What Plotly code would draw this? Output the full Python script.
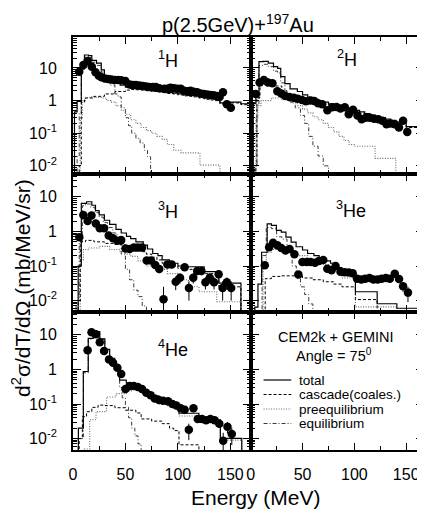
import plotly.graph_objects as go

# ---------------- data ----------------
# 1H
H1_E = [6, 10, 14, 18, 21.5, 24.7, 27.2, 30.4, 33.5, 36.7, 39.8, 43, 46, 50, 54, 57, 60, 63.4, 66.6, 69.7,
        72.9, 76, 79, 82.2, 87, 90, 93, 96.4, 99.6, 102.7, 105.8, 109, 112, 115, 118.4, 121.5, 124.6, 127.8,
        131, 134, 137, 139.7, 142.9, 146.6, 150.4]
H1_y = [7.7, 12.3, 16.3, 11, 7.4, 5.8, 5.2, 4.8, 4.6, 4.4, 4.3, 4.3, 4.2, 4.0, 3.1, 3.0, 3.0, 2.9, 2.8, 2.7,
        2.6, 2.6, 2.6, 2.4, 2.3, 2.3, 2.5, 2.4, 2.3, 2.3, 2.0, 1.95, 2.0, 1.86, 1.8, 1.66, 1.6, 1.55,
        1.48, 1.45, 1.38, 1.28, 1.8, 0.78, 0.6]
H1_err = [0.4, 0.6, 0.8, 0.6, 0.4, 0.3, 0.3, 0.25, 0.25, 0.25, 0.25, 0.25, 0.25, 0.2, 0.17, 0.17, 0.17, 0.16, 0.16, 0.15,
          0.15, 0.15, 0.15, 0.14, 0.13, 0.13, 0.14, 0.14, 0.13, 0.13, 0.12, 0.12, 0.12, 0.11, 0.11, 0.1, 0.1, 0.1,
          0.09, 0.09, 0.09, 0.08, 0.11, 0.06, 0.05]
H1_total_E = [0, 1.5, 4, 8, 11, 15, 18, 22.5, 27, 30, 35, 40, 45, 50, 55, 60, 65, 70, 75, 80, 85, 90, 95, 100,
              105, 110, 115, 120, 125, 130, 135, 140, 145, 150, 155, 160, 170]
H1_total = [0.004, 0.45, 0.95, 10, 25, 24, 17, 14, 8.7, 5.6, 4.5, 3.6, 3.0, 2.6, 2.4, 2.3, 2.2, 2.1, 2.0, 1.95,
            1.85, 1.75, 1.7, 1.6, 1.5, 1.45, 1.4, 1.3, 1.2, 1.15, 1.1, 0.85, 0.85, 0.9, 0.9, 0.8, 0.8]
H1_casc_E = [0, 6, 8, 11, 20, 30, 40, 50, 55, 60, 65, 70, 75, 80, 85, 90, 95, 100, 105, 110, 115, 120, 125,
             130, 135, 140, 150, 160, 170]
H1_casc = [0.0001, 0.01, 0.9, 1.2, 1.35, 1.6, 1.9, 2.1, 2.2, 2.15, 2.1, 2.0, 1.9, 1.85, 1.75, 1.65, 1.6, 1.5,
           1.4, 1.35, 1.3, 1.2, 1.1, 1.05, 1.0, 0.8, 0.85, 0.75, 0.75]
H1_pre_E = [0, 5, 7, 9, 12, 17, 22, 27, 32, 36, 41, 46, 50, 55, 60, 65, 70, 75, 80, 85, 90, 96, 103, 121, 140, 150]
H1_pre = [0.0001, 0.003, 0.3, 1.0, 1.25, 1.3, 1.25, 1.2, 1.0, 0.9, 0.7, 0.5, 0.38, 0.26, 0.2, 0.15, 0.12, 0.1,
          0.08, 0.065, 0.045, 0.03, 0.025, 0.0105, 0.0001, 0.0001]
H1_eq_E = [0, 4, 6, 8, 11, 15, 18, 22.5, 27, 30, 35, 40, 43, 46, 50, 53, 56, 60, 64, 68, 71, 74, 80]
H1_eq = [0.0001, 0.02, 0.4, 9, 22, 21, 15, 12, 7.5, 4.5, 3.0, 1.6, 1.3, 0.6, 0.3, 0.17, 0.1, 0.07, 0.05, 0.03,
         0.019, 0.0001, 0.0001]

# 2H
H2_E = [4.8, 8.6, 12.7, 16.7, 21, 25.7, 29.5, 33.3, 37.4, 41.6, 45.4, 49.5, 53.3, 57.4, 61.3, 65, 69, 74, 78.7,
        82.8, 86.6, 90.8, 94.6, 98.7, 103, 107, 111, 115, 119, 123, 127, 131, 135, 139, 143, 147, 151]
H2_y = [1.6, 3.6, 4.3, 3.6, 3.4, 1.95, 1.66, 1.38, 1.3, 1.23, 1.15, 1.05, 0.95, 1.0, 0.98, 0.83, 0.77, 0.51, 0.63,
        0.64, 0.57, 0.63, 0.38, 0.52, 0.35, 0.27, 0.3, 0.3, 0.28, 0.27, 0.24, 0.19, 0.2, 0.19, 0.15, 0.24, 0.11]
H2_err = [0.15, 0.3, 0.3, 0.3, 0.3, 0.15, 0.13, 0.11, 0.1, 0.1, 0.09, 0.08, 0.08, 0.08, 0.08, 0.07, 0.07, 0.05, 0.06,
          0.06, 0.05, 0.06, 0.04, 0.05, 0.04, 0.03, 0.03, 0.03, 0.03, 0.03, 0.03, 0.025, 0.025, 0.025, 0.02, 0.03, 0.02]
H2_total_E = [0, 2.5, 5, 8, 12, 17, 22, 26, 29, 33, 38, 45, 50, 55, 60, 65, 70, 75, 80, 85, 90, 95, 100, 105,
              110, 115, 120, 125, 130, 135, 140, 150, 170]
H2_total = [0.004, 0.8, 1.3, 15.6, 16, 14, 11, 9.7, 5.4, 3.3, 2.3, 1.9, 1.5, 1.25, 1.1, 1.0, 0.9, 0.8, 0.72, 0.65,
            0.6, 0.55, 0.5, 0.45, 0.4, 0.36, 0.33, 0.3, 0.27, 0.25, 0.22, 0.16, 0.16]
H2_casc_E = [0, 5, 6, 9, 13, 18, 24, 30, 35, 40, 45, 50, 55, 60, 65, 70, 75, 80, 85, 90, 95, 100, 105, 110, 115,
             120, 125, 130, 135, 140, 150, 170]
H2_casc = [0.0001, 0.01, 1.2, 3.0, 4.0, 3.8, 2.8, 2.0, 1.6, 1.4, 1.3, 1.2, 1.1, 1.0, 0.92, 0.82, 0.73, 0.66, 0.6,
           0.55, 0.5, 0.46, 0.41, 0.37, 0.33, 0.31, 0.28, 0.25, 0.23, 0.2, 0.15, 0.15]
H2_pre_E = [0, 4, 5, 7, 10, 20, 30, 40, 45, 50, 55, 60, 65, 70, 75, 80, 85, 90, 95, 100, 120, 140, 150]
H2_pre = [0.0001, 0.005, 0.3, 0.7, 1.0, 1.2, 1.1, 0.85, 0.7, 0.55, 0.42, 0.32, 0.26, 0.2, 0.15, 0.11, 0.08, 0.06,
          0.045, 0.04, 0.017, 0.0001, 0.0001]
H2_eq_E = [0, 4, 6, 8, 12, 17, 22, 26, 29, 33, 38, 43, 48, 52, 56, 60, 65, 70, 75, 78, 85]
H2_eq = [0.0001, 0.01, 0.8, 12, 13, 11, 8, 7, 3.5, 1.5, 0.9, 0.6, 0.35, 0.2, 0.08, 0.04, 0.02, 0.01, 0.006,
         0.0001, 0.0001]

# 3H
H3_E = [6.1, 9.9, 14, 17.7, 21.8, 25.6, 29.7, 34.1, 38.2, 42.3, 46, 50.1, 54, 58, 61.8, 65.8, 70.3, 74.3, 78.4,
        82.2, 86.3, 90, 94.1, 97.9, 102, 106.4, 110.5, 114.6, 118.3, 122.4, 126.2, 130.3, 134.4, 138.8, 142.6,
        146.6, 150.7]
H3_y = [0.68, 3.0, 2.0, 2.9, 1.7, 1.23, 1.23, 0.76, 0.63, 0.54, 0.56, 0.32, 0.31, 0.34, 0.34, 0.34, 0.145, 0.145,
        0.107, 0.082, 0.011, 0.11, 0.11, 0.035, 0.046, 0.092, 0.023, 0.046, 0.072, 0.072, 0.034, 0.046, 0.034,
        0.058, 0.023, 0.034, 0.023]
H3_err = [0.07, 0.25, 0.2, 0.25, 0.15, 0.11, 0.11, 0.07, 0.06, 0.05, 0.05, 0.03, 0.03, 0.03, 0.03, 0.03, 0.02, 0.02,
          0.02, 0.02, 0.014, 0.02, 0.02, 0.015, 0.015, 0.02, 0.013, 0.015, 0.018, 0.018, 0.013, 0.015, 0.013,
          0.017, 0.013, 0.013, 0.013]
H3_total_E = [0, 5, 8, 13, 18, 21.5, 25, 30, 35, 41, 46, 51, 55, 60, 67, 71, 76, 81, 85, 92, 100, 108, 125, 139,
              160, 169]
H3_total = [0.004, 0.1, 6.5, 7.2, 5.7, 4.0, 3.0, 2.1, 1.6, 1.15, 0.9, 0.72, 0.62, 0.5, 0.4, 0.31, 0.23, 0.2, 0.15,
            0.12, 0.1, 0.095, 0.069, 0.032, 0.0001, 0.0001]
H3_casc_E = [0, 5, 7, 12, 20, 30, 40, 47, 50, 55, 60, 65, 70, 75, 80, 85, 92, 100, 108, 125, 139, 160, 169]
H3_casc = [0.0001, 0.01, 0.5, 0.55, 0.5, 0.45, 0.42, 0.42, 0.36, 0.32, 0.3, 0.26, 0.22, 0.18, 0.15, 0.12, 0.1,
           0.085, 0.08, 0.06, 0.025, 0.0001, 0.0001]
H3_pre_E = [0, 5, 7, 10, 15, 25, 35, 45, 50, 55, 62, 70, 80, 90, 100, 110, 120, 137, 160, 169]
H3_pre = [0.0001, 0.005, 0.15, 0.3, 0.33, 0.37, 0.3, 0.26, 0.22, 0.19, 0.14, 0.1, 0.08, 0.06, 0.04, 0.025, 0.018,
          0.0093, 0.0001, 0.0001]
H3_eq_E = [0, 3, 6, 9, 12, 17, 21, 25, 29, 33, 38, 42, 46, 50, 54, 58, 62, 66, 70, 75]
H3_eq = [0.0001, 0.01, 0.5, 5.5, 6.2, 5, 3.5, 2.6, 1.8, 1.3, 0.9, 0.6, 0.22, 0.08, 0.04, 0.02, 0.013, 0.007,
         0.0001, 0.0001]

# 3He
He3_E = [13.6, 17.8, 21.6, 25.7, 29.5, 33.6, 37.5, 42.2, 46, 49.9, 54, 57.8, 62, 65.8, 70, 73.9, 78, 81.9, 86.6,
         90.7, 94.6, 98.4, 102.6, 106.7, 110.5, 114.6, 118.4, 122.5, 126.3, 130.4, 134.2, 139, 143.1, 147, 151.7]
He3_y = [0.105, 0.35, 0.47, 0.4, 0.33, 0.28, 0.31, 0.22, 0.057, 0.13, 0.13, 0.13, 0.125, 0.14, 0.15, 0.083, 0.075,
         0.1, 0.068, 0.066, 0.065, 0.062, 0.043, 0.041, 0.043, 0.045, 0.041, 0.041, 0.043, 0.045, 0.043, 0.06,
         0.042, 0.026, 0.017]
He3_err = [0.012, 0.03, 0.04, 0.035, 0.03, 0.025, 0.03, 0.02, 0.008, 0.015, 0.015, 0.015, 0.015, 0.015, 0.015,
           0.012, 0.011, 0.013, 0.01, 0.01, 0.01, 0.01, 0.008, 0.008, 0.008, 0.008, 0.008, 0.008, 0.008, 0.008,
           0.008, 0.01, 0.008, 0.008, 0.008]
He3_total_E = [0, 4, 7, 10.5, 15.9, 20, 24.8, 29.5, 34, 39, 43.8, 50, 54.9, 61, 66, 72, 77, 83, 88, 101, 122, 141,
               161, 167]
He3_total = [0.002, 0.0065, 0.03, 0.25, 1.66, 1.5, 1.07, 0.95, 0.68, 0.49, 0.36, 0.29, 0.23, 0.2, 0.17, 0.14, 0.12,
             0.09, 0.07, 0.018, 0.0081, 0.006, 0.0001, 0.0001]
He3_casc_E = [0, 10, 14, 20, 30, 43, 50, 60, 70, 80, 88, 101, 122, 130]
He3_casc = [0.0001, 0.002, 0.043, 0.05, 0.052, 0.052, 0.045, 0.04, 0.035, 0.03, 0.025, 0.0107, 0.0001, 0.0001]
He3_pre_E = [0, 9, 12, 15, 20, 25, 35, 45, 55, 65, 75, 88, 101, 141, 150]
He3_pre = [0.0001, 0.002, 0.1, 0.25, 0.3, 0.3, 0.25, 0.2, 0.14, 0.11, 0.08, 0.045, 0.0066, 0.0001, 0.0001]
He3_eq_E = [0, 9, 11, 15, 20, 25, 30, 35, 40, 44, 48, 52, 56, 60, 61, 65]
He3_eq = [0.0001, 0.003, 0.2, 1.3, 1.2, 0.7, 0.6, 0.35, 0.1, 0.043, 0.025, 0.015, 0.008, 0.004, 0.0001, 0.0001]

# 4He
He4_E = [14, 17.7, 21.9, 25.6, 29.7, 34.4, 38.2, 42.3, 46, 50.1, 54, 58, 61.8, 65.8, 69.9, 74, 77.9, 81.9, 85.9,
         90.6, 94.7, 98.5, 102.6, 106.4, 110.4, 114.8, 118.9, 123, 126.8, 130.9, 135, 139.4, 143.1, 147.2, 151.3]
He4_y = [3.6, 11.8, 10.4, 6.1, 3.4, 1.95, 1.57, 1.12, 0.74, 0.27, 0.33, 0.33, 0.31, 0.27, 0.21, 0.18, 0.145, 0.13,
         0.125, 0.12, 0.1, 0.09, 0.075, 0.068, 0.018, 0.075, 0.037, 0.037, 0.034, 0.037, 0.034, 0.027, 0.0087,
         0.022, 0.0135]
He4_err = [0.3, 0.8, 0.7, 0.4, 0.25, 0.15, 0.12, 0.09, 0.06, 0.025, 0.03, 0.03, 0.03, 0.025, 0.02, 0.017, 0.014,
           0.013, 0.012, 0.012, 0.01, 0.009, 0.008, 0.008, 0.009, 0.008, 0.006, 0.006, 0.006, 0.006, 0.006, 0.006,
           0.006, 0.008, 0.007]
He4_total_E = [0, 5.2, 9.9, 14.6, 19.3, 25.6, 30.4, 35, 39.8, 44.5, 50.8, 55.5, 60.2, 64.9, 69.6, 75.9, 82.2, 88.5,
               94.8, 101, 120, 140.4, 160.8, 169]
He4_total = [0.001, 0.02, 0.87, 7.9, 12.3, 7.6, 3.8, 2.1, 1.1, 0.49, 0.41, 0.35, 0.29, 0.25, 0.21, 0.17, 0.13,
             0.12, 0.1, 0.054, 0.035, 0.0102, 0.0001, 0.0001]
He4_casc_E = [0, 6, 9, 13, 18, 24, 30, 40, 50, 60, 65, 75, 85, 92, 96, 101, 120, 125]
He4_casc = [0.0001, 0.01, 0.043, 0.06, 0.08, 0.093, 0.09, 0.078, 0.066, 0.055, 0.037, 0.032, 0.027, 0.02, 0.017,
            0.0066, 0.0001, 0.0001]
He4_pre_E = [0, 10, 16, 22, 32, 41, 50.8, 55.5, 60.2, 64.9, 69.6, 75.9, 82.2, 88.5, 94.8, 101, 120, 140.4, 160.8, 169]
He4_pre = [0.0001, 0.005, 0.035, 0.06, 0.16, 0.2, 0.24, 0.3, 0.25, 0.21, 0.18, 0.14, 0.1, 0.09, 0.08, 0.045, 0.03,
           0.009, 0.0001, 0.0001]
He4_eq_E = [0, 5, 10, 14.6, 19.3, 25.6, 30.4, 35, 39.8, 44.5, 47, 50, 53, 56, 59, 62, 65, 70]
He4_eq = [0.0001, 0.01, 0.8, 7.5, 12, 7.4, 3.7, 2.0, 1.0, 0.3, 0.15, 0.08, 0.04, 0.02, 0.012, 0.007, 0.0001, 0.0001]

PANEL_LABELS = ["<sup>1</sup>H", "<sup>2</sup>H", "<sup>3</sup>H", "<sup>3</sup>He", "<sup>4</sup>He"]
LEGEND_LABELS = ["total", "cascade(coales.)", "preequilibrium", "equilibrium"]
X_TICKS = [0, 50, 100, 150]
Y_TICKS = [0.01, 0.1, 1, 10]
Y_TICKTEXT = ["10<sup>-2</sup>", "10<sup>-1</sup>", "1", "10"]

# ---------------- figure ----------------
# the page body has an 8 px margin, so the figure is drawn 8 px smaller and
# all layout positions (measured on the 425x512 reference) are shifted by 8 px
OFF = 8
W, H = 425 - OFF, 512 - OFF
FONT = "Liberation Sans, Arial, Helvetica, sans-serif"


def px(x):
    return (x - OFF) / W


def py(y):
    return 1 - (y - OFF) / H


col_dom = [[px(69.5), px(249)], [px(249), min(1.0, px(423.5))]]
row_dom = [[py(174), py(37)], [py(312), py(174)], [py(450), py(312)]]
row_yrange = [[-2.25, 1.95], [-2.33, 1.66], [-2.33, 1.66]]
col_xrange = [[0, 169.3], [0, 166.7]]

STYLES = {
    "total": dict(color="black", width=1.2, dash="solid"),
    "casc": dict(color="black", width=1, dash="3px,2px"),
    "pre": dict(color="#6a6a6a", width=1.1, dash="1px,1.5px"),
    "eq": dict(color="#3a3a3a", width=1, dash="4px,2px,1px,2px"),
}

panels = [
    (H1_E, H1_y, H1_err, H1_total_E, H1_total, H1_casc_E, H1_casc, H1_pre_E, H1_pre, H1_eq_E, H1_eq),
    (H2_E, H2_y, H2_err, H2_total_E, H2_total, H2_casc_E, H2_casc, H2_pre_E, H2_pre, H2_eq_E, H2_eq),
    (H3_E, H3_y, H3_err, H3_total_E, H3_total, H3_casc_E, H3_casc, H3_pre_E, H3_pre, H3_eq_E, H3_eq),
    (He3_E, He3_y, He3_err, He3_total_E, He3_total, He3_casc_E, He3_casc, He3_pre_E, He3_pre, He3_eq_E, He3_eq),
    (He4_E, He4_y, He4_err, He4_total_E, He4_total, He4_casc_E, He4_casc, He4_pre_E, He4_pre, He4_eq_E, He4_eq),
]

fig = go.Figure()
layout = dict(
    width=W, height=H, autosize=False,
    margin=dict(l=0, r=0, t=0, b=0, pad=0),
    paper_bgcolor="white", plot_bgcolor="white",
    showlegend=False,
    font=dict(family=FONT, color="black"),
)

minor_y = [m * 10.0 ** d for d in range(-3, 2) for m in range(2, 10)]

for i in range(6):
    r, c = divmod(i, 2)
    n = i + 1
    xa = "xaxis" if n == 1 else f"xaxis{n}"
    ya = "yaxis" if n == 1 else f"yaxis{n}"
    xr = "x" if n == 1 else f"x{n}"
    yr = "y" if n == 1 else f"y{n}"
    layout[xa] = dict(
        domain=col_dom[c], range=col_xrange[c], anchor=yr,
        showline=True, linecolor="black", linewidth=1.7, mirror="allticks",
        ticks="inside", ticklen=7, tickwidth=1.3, tickcolor="black",
        tickmode="array", tickvals=X_TICKS,
        minor=dict(tickmode="array", tickvals=[25, 75, 125], ticks="inside", ticklen=4,
                   tickwidth=1, tickcolor="black"),
        showticklabels=(r == 2), tickfont=dict(size=16, family=FONT),
        ticklabelstandoff=9,
        showgrid=False, zeroline=False, fixedrange=True,
    )
    layout[ya] = dict(
        domain=row_dom[r], range=row_yrange[r], type="log", anchor=xr,
        showline=True, linecolor="black", linewidth=1.7, mirror="allticks",
        ticks="inside", ticklen=8, tickwidth=1.3, tickcolor="black",
        tickmode="array", tickvals=Y_TICKS, ticktext=Y_TICKTEXT,
        minor=dict(tickmode="array", tickvals=minor_y, ticks="inside", ticklen=4,
                   tickwidth=1, tickcolor="black"),
        showticklabels=(c == 0), tickfont=dict(size=16, family=FONT),
        ticklabelstandoff=11,
        showgrid=False, zeroline=False, fixedrange=True,
    )

    if i < 5:
        (dE, dy, derr, tE, tv, cE, cv, pE, pv, eE, ev) = panels[i]
        for (xx, yy, key) in [(eE, ev, "eq"), (pE, pv, "pre"), (cE, cv, "casc"), (tE, tv, "total")]:
            fig.add_trace(go.Scatter(x=xx, y=yy, mode="lines", line=dict(shape="hv", **STYLES[key]),
                                     xaxis=xr, yaxis=yr, hoverinfo="skip"))
        fig.add_trace(go.Scatter(
            x=dE, y=dy, mode="markers", xaxis=xr, yaxis=yr,
            marker=dict(color="black", size=8.5, symbol="circle"),
            error_y=dict(type="data", array=derr, visible=True, color="black", thickness=1, width=0),
            cliponaxis=True,
        ))
    else:
        # empty trace so that the legend panel's axes are fully drawn
        fig.add_trace(go.Scatter(x=[], y=[], mode="lines", xaxis=xr, yaxis=yr, hoverinfo="skip"))

annotations = []
# panel labels
label_pos = [(166, 60), (346, 59), (166, 210), (350, 209), (171, 348)]
for txt, (lx, ly) in zip(PANEL_LABELS, label_pos):
    annotations.append(dict(text=txt, x=px(lx), y=py(ly), xref="paper", yref="paper",
                            xanchor="center", yanchor="middle", showarrow=False,
                            font=dict(size=18, family=FONT)))
# title
annotations.append(dict(text="p(2.5GeV)+<sup>197</sup>Au", x=px(236), y=py(23), xref="paper", yref="paper",
                        xanchor="center", yanchor="middle", showarrow=False, font=dict(size=20, family=FONT)))
# axis titles
annotations.append(dict(text="Energy (MeV)", x=px(254), y=py(497), xref="paper", yref="paper",
                        xanchor="center", yanchor="middle", showarrow=False, font=dict(size=21, family=FONT)))
annotations.append(dict(text="d<sup>2</sup>σ/dT/dΩ (mb/MeV/sr)", x=px(17), y=py(288), xref="paper",
                        yref="paper", xanchor="center", yanchor="middle", textangle=-90, showarrow=False,
                        font=dict(size=21, family=FONT)))
# legend panel texts
annotations.append(dict(text="CEM2k + GEMINI", x=px(335), y=py(337), xref="paper", yref="paper",
                        xanchor="center", yanchor="middle", showarrow=False, borderpad=0,
                        font=dict(size=14.5, family=FONT)))
annotations.append(dict(text="Angle = 75<sup>0</sup>", x=px(333), y=py(355), xref="paper", yref="paper",
                        xanchor="center", yanchor="middle", showarrow=False, borderpad=0,
                        font=dict(size=14.5, family=FONT)))

shapes = []
leg_y = [380, 394.5, 409, 423.5]
for lab, key, ly in zip(LEGEND_LABELS, ["total", "casc", "pre", "eq"], leg_y):
    st = STYLES[key]
    shapes.append(dict(type="line", xref="paper", yref="paper", x0=px(262), x1=px(290), y0=py(ly), y1=py(ly),
                       line=dict(color=st["color"], width=st["width"], dash=st["dash"])))
    annotations.append(dict(text=lab, x=px(297), y=py(ly), xref="paper", yref="paper",
                            xanchor="left", yanchor="middle", showarrow=False, borderpad=0,
                            font=dict(size=13.5, family=FONT)))

layout["annotations"] = annotations
layout["shapes"] = shapes
fig.update_layout(**layout)
fig.write_html("out.html")
